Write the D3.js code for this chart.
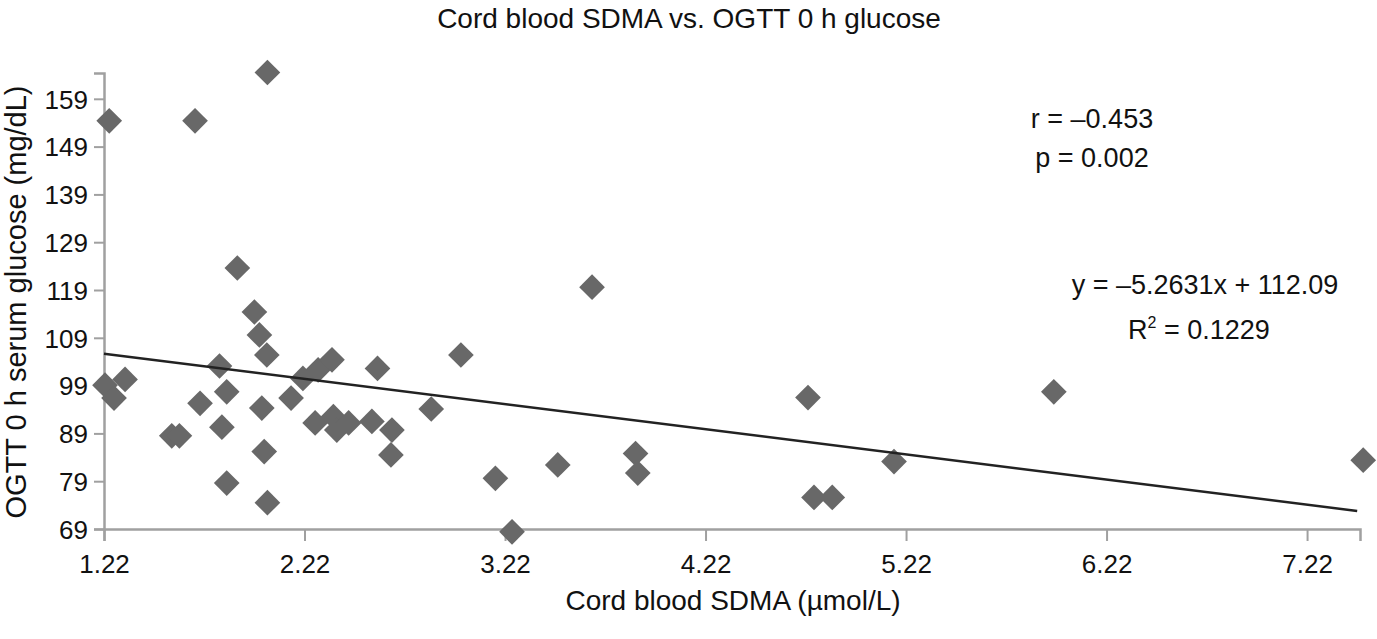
<!DOCTYPE html>
<html>
<head>
<meta charset="utf-8">
<script src="https://cdn.jsdelivr.net/npm/d3@7"></script>
<style>
	body { margin: 0; background: #fff; }
	svg text { font-family: "Liberation Sans", Arial, sans-serif; fill: #111; }
</style>
</head>
<body>
<svg id="chart" width="1377" height="639"></svg>
<script>
// values
var sdma = [1.246, 1.674, 2.035, 1.885, 1.97, 1.995, 2.032, 1.225, 1.27, 1.325,
	1.558, 1.596, 1.699, 1.796, 1.832, 1.808, 1.832, 2.007, 2.019, 2.035,
	2.153, 2.212, 2.288, 2.357, 2.584, 3.0, 2.273, 2.364, 2.381, 2.44,
	2.556, 2.656, 2.651, 2.852, 3.172, 3.255, 3.654, 3.483, 3.871, 3.882,
	4.731, 4.761, 4.852, 5.16, 5.957, 7.5];
var glucose = [154.4, 154.4, 164.5, 123.6, 114.4, 109.6, 105.4, 99.1, 96.4, 100.3,
	88.5, 88.5, 95.3, 103.1, 97.7, 90.3, 78.6, 94.3, 85.2, 74.5,
	96.4, 100.5, 102.3, 104.4, 102.6, 105.4, 91.2, 92.5, 89.7, 91.2,
	91.5, 89.7, 84.5, 94.1, 79.6, 68.4, 119.6, 82.4, 84.8, 80.7,
	96.5, 75.6, 75.6, 83.1, 97.7, 83.4];
var xTicks = [1.22, 2.22, 3.22, 4.22, 5.22, 6.22, 7.22];
var yTicks = [69, 79, 89, 99, 109, 119, 129, 139, 149, 159];
var slope = -5.2631, intercept = 112.09;
var fitRange = [1.22, 7.47];
var notes = ['r = \u20130.453', 'p = 0.002', 'y = \u20135.2631x + 112.09'];

var svg = d3.select('#chart');

var x = d3.scaleLinear().domain([1.22, 7.484]).range([104, 1360]);
var y = d3.scaleLinear().domain([69, 164.4]).range([529, 73]);

//Axes
var xAxis = svg.append('g')
	.attr('transform', 'translate(0,529)')
	.call(d3.axisBottom(x).tickValues(xTicks).tickFormat(d3.format('.2f'))
		.tickSizeOuter(0).tickSize(12).tickPadding(14));
var yAxis = svg.append('g')
	.attr('transform', 'translate(104,0)')
	.call(d3.axisLeft(y).tickValues(yTicks).tickFormat(d3.format('d'))
		.tickSizeOuter(0).tickSize(10).tickPadding(6));

[xAxis, yAxis].forEach(function (g) {
	g.select('.domain').attr('stroke', '#a0a0a0').attr('stroke-width', 2.5);
	g.selectAll('.tick line').attr('stroke', '#a0a0a0').attr('stroke-width', 2);
	g.selectAll('.tick text').style('font-size', '26px').attr('fill', '#111');
});
xAxis.selectAll('.tick text').attr('dy', '0.71em');
yAxis.selectAll('.tick text').attr('dy', '0.36em');

//Points
var diamond = d3.symbol().type(d3.symbolSquare).size(330);
svg.append('g').selectAll('path')
	.data(sdma.map(function (v, i) { return [v, glucose[i]]; }))
	.join('path')
	.attr('d', diamond)
	.attr('transform', function (d) { return `translate(${x(d[0])},${y(d[1])}) rotate(45)`; })
	.attr('fill', '#686868');

//Trend line
svg.append('line')
	.attr('x1', x(fitRange[0]))
	.attr('y1', y(slope * fitRange[0] + intercept))
	.attr('x2', x(fitRange[1]))
	.attr('y2', y(slope * fitRange[1] + intercept))
	.attr('stroke', '#222')
	.attr('stroke-width', 2.5);

//Texts
svg.append('text')
	.attr('x', 689).attr('y', 28)
	.attr('text-anchor', 'middle')
	.style('font-size', '28px')
	.text('Cord blood SDMA vs. OGTT 0 h glucose');

svg.append('text')
	.attr('x', 733).attr('y', 610)
	.attr('text-anchor', 'middle')
	.style('font-size', '28px')
	.text('Cord blood SDMA (\u00b5mol/L)');

svg.append('text')
	.attr('transform', 'translate(26,302) rotate(-90)')
	.attr('text-anchor', 'middle')
	.style('font-size', '29px')
	.text('OGTT 0 h serum glucose (mg/dL)');

svg.append('text').attr('x', 1092).attr('y', 128).attr('text-anchor', 'middle')
	.style('font-size', '27px').text(notes[0]);
svg.append('text').attr('x', 1092).attr('y', 167).attr('text-anchor', 'middle')
	.style('font-size', '27px').text(notes[1]);
svg.append('text').attr('x', 1205).attr('y', 294).attr('text-anchor', 'middle')
	.style('font-size', '27px').text(notes[2]);

var r2 = svg.append('text').attr('x', 1199).attr('y', 339).attr('text-anchor', 'middle')
	.style('font-size', '27px');
r2.append('tspan').text('R');
r2.append('tspan').attr('dy', -11).style('font-size', '16px').text('2');
r2.append('tspan').attr('dy', 11).text(' = 0.1229');
</script>
</body>
</html>
